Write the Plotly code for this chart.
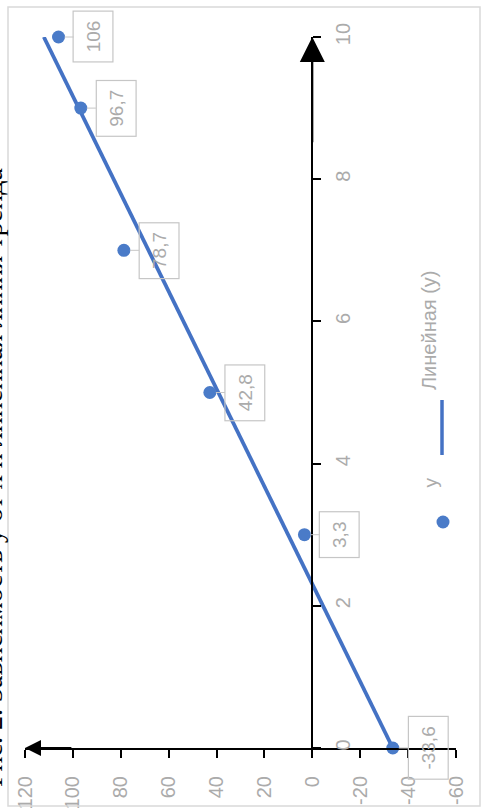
import numpy as np
import plotly.graph_objects as go

# Data: argument x, function value y, and the printed data labels
x_vals = [0, 3, 5, 7, 9, 10]
y_vals = [-33.6, 3.3, 42.8, 78.7, 96.7, 106]
y_labels = ["-33,6", "3,3", "42,8", "78,7", "96,7", "106"]

x_ticks = [0, 2, 4, 6, 8, 10]
y_ticks = [120, 100, 80, 60, 40, 20, 0, -20, -40, -60]

series_name = "y"
trend_name = "Линейная (y)"
caption = "Рис. 2. Зависимость у от x и линейная линия тренда"

# Least-squares linear trend over the x range
slope, intercept = np.polyfit(x_vals, y_vals, 1)
trend_x = [min(x_ticks), max(x_ticks)]
trend_y = [intercept + slope * t for t in trend_x]

W, H = 482, 812
BLUE = "#4472c4"
GRAY_TXT = "#ababab"
GRAY_BOX = "#c6c6c6"
FONT = "Liberation Sans, Arial, sans-serif"


def px(p):
    return p / W


def py(p):
    return 1 - p / H


# The chart is laid out turned a quarter turn: value y runs horizontally
# (120 on the left), argument x runs vertically (0 at the bottom).
x_dom = [px(25), px(456)]
y_dom = [py(748), py(37)]
y_rng = [max(y_ticks), min(y_ticks)]
x_rng = [min(x_ticks), max(x_ticks)]
# paper position of value 0 along the horizontal axis
zero_pos = x_dom[0] + (y_rng[0] - 0) / (y_rng[0] - y_rng[1]) * (x_dom[1] - x_dom[0])

fig = go.Figure()

fig.add_trace(go.Scatter(
    x=trend_y, y=trend_x, mode="lines",
    line=dict(color=BLUE, width=3.8),
    name=trend_name, showlegend=False, cliponaxis=False,
))
fig.add_trace(go.Scatter(
    x=y_vals, y=x_vals, mode="markers",
    marker=dict(color="#4a7bc8", size=13),
    name=series_name, showlegend=False, cliponaxis=False,
))

annotations = []
# data labels in callout boxes
for xv, yv, lab in zip(x_vals, y_vals, y_labels):
    annotations.append(dict(
        x=yv, y=xv, xref="x", yref="y", text=lab, textangle=-90,
        showarrow=True, ax=35, ay=0, arrowhead=0, arrowwidth=1,
        arrowcolor=GRAY_BOX, standoff=6,
        font=dict(family=FONT, size=19, color=GRAY_TXT),
        bordercolor=GRAY_BOX, borderwidth=1.2, borderpad=9,
        bgcolor="rgba(255,255,255,0)",
    ))

# arrow heads at the positive ends of both axes
annotations.append(dict(
    x=0, y=max(x_ticks), xref="x", yref="y",
    ax=0, ay=max(x_ticks) - 1.5, axref="x", ayref="y",
    showarrow=True, arrowhead=2, arrowwidth=2, arrowsize=2.5,
    arrowcolor="black", text="",
))
annotations.append(dict(
    x=max(y_ticks), y=0, xref="x", yref="y",
    ax=max(y_ticks) - 20, ay=0, axref="x", ayref="y",
    showarrow=True, arrowhead=2, arrowwidth=2, arrowsize=1.6,
    arrowcolor="black", text="",
))

# legend, written along the right edge
annotations.append(dict(
    x=px(442), y=py(483), xref="paper", yref="paper", text=series_name,
    textangle=-90, showarrow=False,
    font=dict(family=FONT, size=19, color=GRAY_TXT),
))
annotations.append(dict(
    x=px(442), y=py(330), xref="paper", yref="paper", text=trend_name,
    textangle=-90, showarrow=False,
    font=dict(family=FONT, size=20, color=GRAY_TXT),
))

# page caption running along the left edge, partly beyond the page border
annotations.append(dict(
    x=px(-8), y=py(478), xref="paper", yref="paper", text=caption,
    textangle=-90, showarrow=False, xanchor="center", yanchor="middle",
    font=dict(family="Liberation Serif, DejaVu Serif, serif", size=28, color="black"),
))

shapes = [
    # chart frame
    dict(type="rect", xref="paper", yref="paper",
         x0=px(8), x1=px(480), y0=py(806), y1=py(7),
         line=dict(color="#d9d9d9", width=1.5)),
    # legend symbols
    dict(type="circle", xref="paper", yref="paper",
         x0=px(436.5), x1=px(449.5), y0=py(528.5), y1=py(515.5),
         fillcolor="#4a7bc8", line=dict(width=0)),
    dict(type="line", xref="paper", yref="paper",
         x0=px(442), x1=px(442), y0=py(455), y1=py(400),
         line=dict(color=BLUE, width=3.5)),
]

fig.update_layout(
    width=W, height=H, autosize=False,
    margin=dict(l=0, r=0, t=0, b=0, autoexpand=False),
    paper_bgcolor="white", plot_bgcolor="white",
    showlegend=False,
    annotations=annotations, shapes=shapes,
    xaxis=dict(
        domain=x_dom, range=y_rng, anchor="y", side="bottom", automargin=False,
        tickmode="array", tickvals=y_ticks, ticktext=[str(v) for v in y_ticks],
        tickangle=-90, ticks="outside", ticklen=8, tickwidth=2, tickcolor="black",
        ticklabelstandoff=10,
        showline=True, linecolor="black", linewidth=2,
        showgrid=False, zeroline=False,
        tickfont=dict(family=FONT, size=20, color=GRAY_TXT),
    ),
    yaxis=dict(
        domain=y_dom, range=x_rng, anchor="free", position=zero_pos, side="right",
        automargin=False,
        tickmode="array", tickvals=x_ticks, ticktext=[str(v) for v in x_ticks],
        tickangle=-90, ticks="outside", ticklen=8, tickwidth=2, tickcolor="black",
        ticklabelstandoff=5,
        showline=True, linecolor="black", linewidth=2,
        showgrid=False, zeroline=False,
        tickfont=dict(family=FONT, size=20, color=GRAY_TXT),
    ),
)

fig.write_html("out.html")
